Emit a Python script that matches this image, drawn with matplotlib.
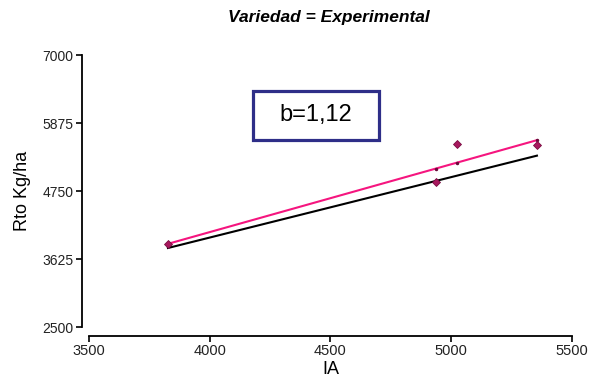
import matplotlib.pyplot as plt
import numpy as np
from matplotlib.patches import Rectangle

plt.rcParams['font.family'] = ['Liberation Sans', 'DejaVu Sans']

# rendimiento observado vs indice ambiental
ia = np.array([3827, 4937, 5025, 5355])
rto = np.array([3870, 4900, 5530, 5510])
offset_ref = -20  # linea de referencia de pendiente 1

xticks = [3500, 4000, 4500, 5000, 5500]
yticks = [2500, 3625, 4750, 5875, 7000]

# ajuste lineal
b, a = np.polyfit(ia, rto, 1)
xs = np.array([ia.min(), ia.max()])

fig = plt.figure(figsize=(5.9, 3.81), dpi=100)
ax = fig.add_axes([0.1508, 0.1417, 0.8186, 0.7139])

ax.plot(xs, xs + offset_ref, color='black', lw=1.5, zorder=2)
ax.plot(xs, a + b * xs, color='#f5157f', lw=1.5, zorder=3)
ax.plot(ia, a + b * ia, ls='none', marker='o', ms=1.5, color='#6a0a3a', zorder=4)
ax.plot(ia, rto, ls='none', marker='D', ms=3.8, color='#a8185e',
        mec='#7a0d42', mew=0.6, zorder=5)

ax.set_xlim(3500, 5500)
ax.set_ylim(2500, 7000)
ax.set_xticks(xticks)
ax.set_yticks(yticks)

for s in ['top', 'right']:
    ax.spines[s].set_visible(False)
ax.spines['left'].set_position(('outward', 5))
ax.spines['bottom'].set_position(('outward', 6.5))
ax.spines['left'].set_bounds(2500, 7000)
ax.spines['bottom'].set_bounds(3500, 5500)
for s in ['left', 'bottom']:
    ax.spines[s].set_linewidth(1.3)
ax.tick_params(direction='out', length=4, width=1.2, labelcolor='#222222', pad=2)
ax.tick_params(axis='x', labelsize=10.5)
ax.tick_params(axis='y', labelsize=10)

ax.set_xlabel('IA', fontsize=13, labelpad=2)
ax.set_ylabel('Rto Kg/ha', fontsize=13, labelpad=8)
fig.text(0.558, 0.955, 'Variedad = Experimental', ha='center', va='center',
         fontsize=12.5, fontweight='bold', fontstyle='italic')

# recuadro con la pendiente
ax.add_patch(Rectangle((0.3395, 0.6875), 0.2609, 0.1801, transform=ax.transAxes,
                       fc='white', ec='#2e2e88', lw=2.3, zorder=6))
ax.text(0.47, 0.778, 'b=' + f'{b:.2f}'.replace('.', ','), transform=ax.transAxes,
        ha='center', va='center', fontsize=17, zorder=7)

fig.savefig('out.png', dpi=100)
